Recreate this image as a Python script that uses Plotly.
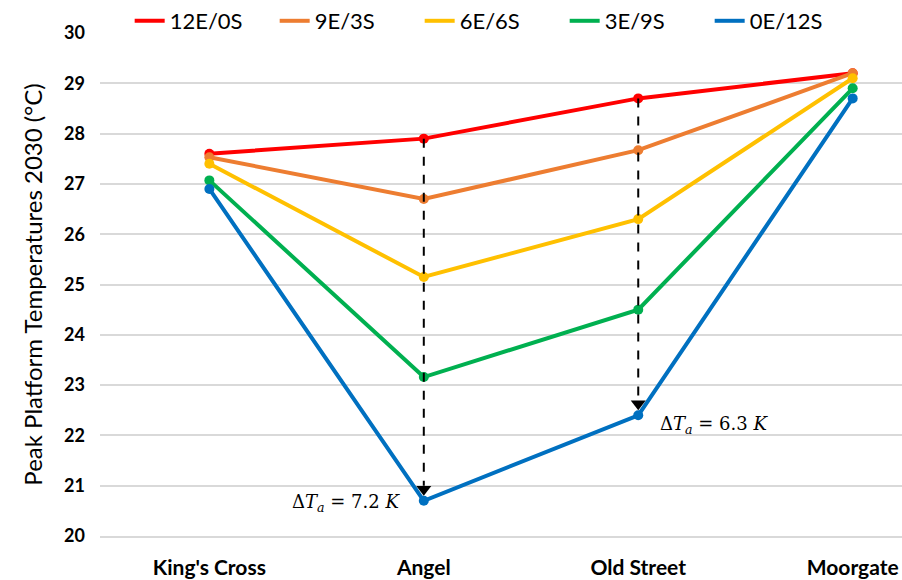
import plotly.graph_objects as go

stations = ["King's Cross", "Angel", "Old Street", "Moorgate"]
series_names = ["12E/0S", "9E/3S", "6E/6S", "3E/9S", "0E/12S"]
s_12e0s = [27.6, 27.9, 28.7, 29.2]
s_9e3s = [27.53, 26.7, 27.67, 29.2]
s_6e6s = [27.4, 25.15, 26.3, 29.1]
s_3e9s = [27.07, 23.16, 24.5, 28.9]
s_0e12s = [26.9, 20.7, 22.4, 28.7]
colors = ["#FF0000", "#ED7D31", "#FFC000", "#00B050", "#0070C0"]
y_ticks = list(range(20, 31))
delta_labels = ["7.2", "6.3"]

all_series = [s_12e0s, s_9e3s, s_6e6s, s_3e9s, s_0e12s]

fig = go.Figure()
for name, vals, col in zip(series_names, all_series, colors):
    fig.add_trace(go.Scatter(x=stations, y=vals, mode="lines+markers", name=name,
                             line=dict(color=col, width=4), marker=dict(color=col, size=10),
                             showlegend=False))
# legend-only entries (line symbol only)
for name, col in zip(series_names, colors):
    fig.add_trace(go.Scatter(x=[None], y=[None], mode="lines", name=name,
                             line=dict(color=col, width=4), showlegend=True))

# dashed difference arrows at Angel (1) and Old Street (2)
for idx in (1, 2):
    top = s_12e0s[idx]
    bot = s_0e12s[idx]
    fig.add_shape(type="line", xref="x", yref="y", x0=idx, x1=idx, y0=top, y1=bot + 0.3,
                  line=dict(color="black", width=2, dash="dash"))
    fig.add_trace(go.Scatter(x=[stations[idx]], y=[bot + 0.23], mode="markers",
                             marker=dict(symbol="triangle-down", size=13, color="black"),
                             showlegend=False, hoverinfo="skip"))

fig.add_annotation(x=1, y=s_0e12s[1], xref="x", yref="y", xshift=-22, yshift=-2,
                   text="Δ<i>T</i><sub><i>a</i></sub> = " + delta_labels[0] + " <i>K</i>",
                   showarrow=False, xanchor="right", yanchor="middle",
                   font=dict(family="DejaVu Serif", size=18, color="black"))
fig.add_annotation(x=2, y=s_0e12s[2], xref="x", yref="y", xshift=20, yshift=-10,
                   text="Δ<i>T</i><sub><i>a</i></sub> = " + delta_labels[1] + " <i>K</i>",
                   showarrow=False, xanchor="left", yanchor="middle",
                   font=dict(family="DejaVu Serif", size=18, color="black"))

fig.update_layout(
    width=902, height=580,
    margin=dict(l=100, r=0, t=33, b=44, autoexpand=False),
    plot_bgcolor="white", paper_bgcolor="white",
    font=dict(family="Lato", color="black"),
    legend=dict(orientation="h", x=0.037, y=1.0, yanchor="top", xanchor="left",
                yref="container", entrywidth=100, font=dict(size=22),
                itemwidth=30, bgcolor="rgba(0,0,0,0)"),
    showlegend=True,
)
fig.update_xaxes(range=[-0.51, 3.23], showgrid=False, zeroline=False, showline=True,
                 linecolor="#D9D9D9", linewidth=2, ticks="", ticklabelstandoff=12,
                 tickfont=dict(family="Lato", size=21, color="black", weight="bold"))
fig.update_yaxes(range=[20, 30], tickvals=y_ticks, showgrid=True, gridcolor="#D9D9D9",
                 gridwidth=2, zeroline=False, showline=False, ticks="", ticklabelstandoff=14,
                 tickfont=dict(family="Lato", size=18, color="black", weight="bold"),
                 title=dict(text="Peak Platform Temperatures 2030 (°C)",
                            font=dict(family="Lato", size=24, color="black"), standoff=14))

fig.write_html("out.html", config={"displayModeBar": False},
               post_script="document.body.style.margin='0';")
